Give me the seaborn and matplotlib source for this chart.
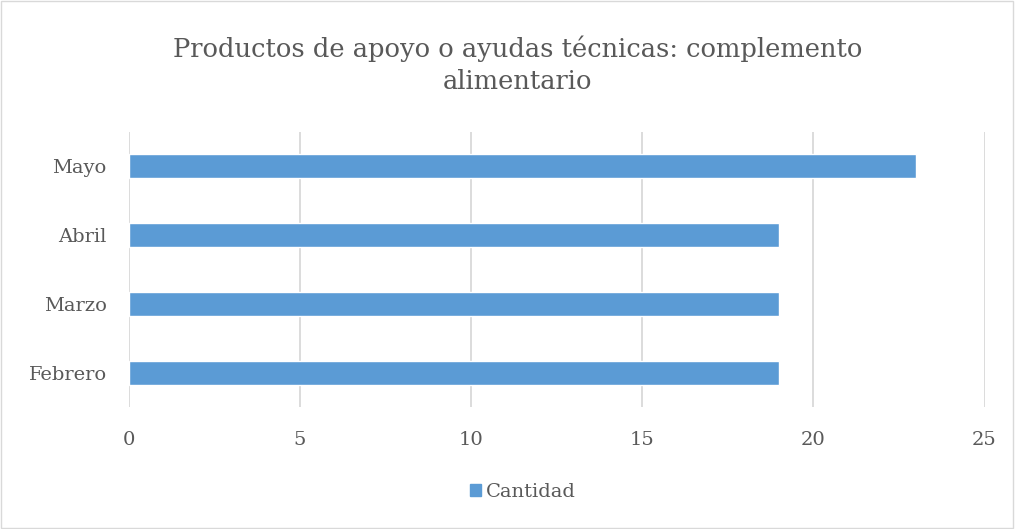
import matplotlib
matplotlib.use("Agg")
import matplotlib.pyplot as plt
import seaborn as sns
import pandas as pd
from matplotlib.patches import Patch, Rectangle

meses = ["Mayo", "Abril", "Marzo", "Febrero"]
cantidad = [23, 19, 19, 19]
xticks = [0, 5, 10, 15, 20, 25]

BAR = "#5B9BD5"
TXT = "#595959"
GRID = "#D9D9D9"

sns.set_theme(style="white")
plt.rcParams["font.family"] = ["DejaVu Serif"]

df = pd.DataFrame({"mes": meses, "cantidad": cantidad})

fig = plt.figure(figsize=(10.15, 5.29), dpi=100)
ax = fig.add_axes([0.127, 0.2297, 0.843, 0.5213])
sns.barplot(data=df, x="cantidad", y="mes", order=meses, color=BAR,
            width=0.35, saturation=1, ax=ax)

ax.set_xlim(0, 25)
ax.set_xticks(xticks)
ax.set_xticklabels([str(t) for t in xticks])
ax.xaxis.grid(True, color=GRID, linewidth=1.3)
ax.set_axisbelow(True)
for s in ax.spines.values():
    s.set_visible(False)
ax.set_xlabel("")
ax.set_ylabel("")
ax.tick_params(axis="both", length=0, labelsize=14, labelcolor=TXT)
ax.tick_params(axis="x", pad=17)
ax.tick_params(axis="y", pad=16)

fig.text(0.51, 0.877, "Productos de apoyo o ayudas técnicas: complemento\nalimentario",
         ha="center", va="center", fontsize=18.5, color=TXT, linespacing=1.35)

fig.legend(handles=[Patch(color=BAR, label="Cantidad")], loc="center",
           bbox_to_anchor=(0.515, 0.07), frameon=False, fontsize=14,
           handlelength=0.6, handleheight=0.6, handletextpad=0.25,
           labelcolor=TXT)

fig.add_artist(Rectangle((0.001, 0.002), 0.997, 0.996, transform=fig.transFigure,
                         fill=False, edgecolor=GRID, linewidth=1))

fig.savefig("out.png", dpi=100)
